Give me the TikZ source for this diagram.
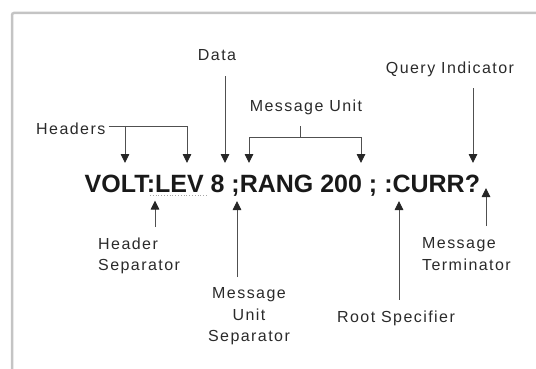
\documentclass[tikz,border=0pt]{standalone}
\usepackage{fontspec}
\setmainfont{Liberation Sans}
\newfontfamily\lblfont[LetterSpace=9]{Liberation Sans}
\usetikzlibrary{arrows.meta}
\definecolor{lblcol}{HTML}{2A2A2A}
\definecolor{linecol}{HTML}{505050}
\definecolor{framecol}{HTML}{C4C4C4}
\tikzset{
  lbl/.style={inner sep=0pt, text=lblcol, font=\lblfont\fontsize{16}{21.5}\selectfont},
  conn/.style={draw=linecol, line width=0.9pt},
  arr/.style={conn, -{Triangle[width=8.5pt,length=9pt,color=black!85]}},
  cmd/.style={inner sep=0pt, text=black!90, font=\fontsize{25}{30}\selectfont\bfseries},
}
\begin{document}
\begin{tikzpicture}[x=1pt,y=-1pt]
\useasboundingbox (0,0) rectangle (536,369);
% frame
\draw[framecol, line width=2.5pt, rounded corners=2pt] (12,372) -- (12,13) -- (540,13);
% command line
\node[cmd, anchor=base west] (cmdline) at (84.5,192) {VOLT:LEV 8 ;RANG 200 ; :CURR?};
\coordinate (ulA) at (150,195.8);
\coordinate (ulB) at (208,195.8);
\draw[gray!70, line width=0.8pt, dotted] (ulA) -- (ulB);
% labels
\node[lbl, anchor=base west] (hdr) at (36,134.7) {Headers};
\node[lbl, anchor=base] (data) at (217,60.7) {Data};
\node[lbl, anchor=base] (mu) at (306,111.7) {Message Unit};
\node[lbl, anchor=base] (qi) at (450,73.7) {Query Indicator};
\node[lbl, anchor=north west, align=left] (hs) at (98,237.3) {Header\\Separator};
\node[lbl, anchor=north, align=center] (mus) at (249,287.3) {Message\\Unit\\Separator};
\node[lbl, anchor=base] (rs) at (396,322.7) {Root Specifier};
\node[lbl, anchor=north west, align=left] (mt) at (422,237.3) {Message\\Terminator};
% arrow tips and joints
\coordinate (hbar) at ([shift={(3pt,3pt)}]hdr.east);
\coordinate (h1) at (125,163);
\coordinate (h2) at (187,163);
\coordinate (dtip) at (225,163);
\coordinate (mj) at (300,137);
\coordinate (m1) at (249,163);
\coordinate (m2) at (361,163);
\coordinate (qtip) at (473,163);
\coordinate (hstip) at (155,200.5);
\coordinate (mustip) at (237,201);
\coordinate (rstip) at (399,201);
\coordinate (mttip) at (486,188);
% connectors
\draw[arr] (hbar) -| (h2);
\draw[arr] (hbar -| h1) -- (h1);
\draw[arr, shorten <=15.3pt] (data.south -| dtip) -- (dtip);
\draw[conn, shorten <=10.9pt] (mu.south -| mj) -- (mj);
\draw[arr] (mj) -| (m1);
\draw[arr] (mj) -| (m2);
\draw[arr, shorten <=10.9pt] (qi.south -| qtip) -- (qtip);
\draw[arr, shorten <=10.3pt] (hs.north -| hstip) -- (hstip);
\draw[arr, shorten <=10.3pt] (mus.north -| mustip) -- (mustip);
\draw[arr, shorten <=11.2pt] (rs.north -| rstip) -- (rstip);
\draw[arr, shorten <=11.3pt] (mt.north -| mttip) -- (mttip);
\end{tikzpicture}
\end{document}
